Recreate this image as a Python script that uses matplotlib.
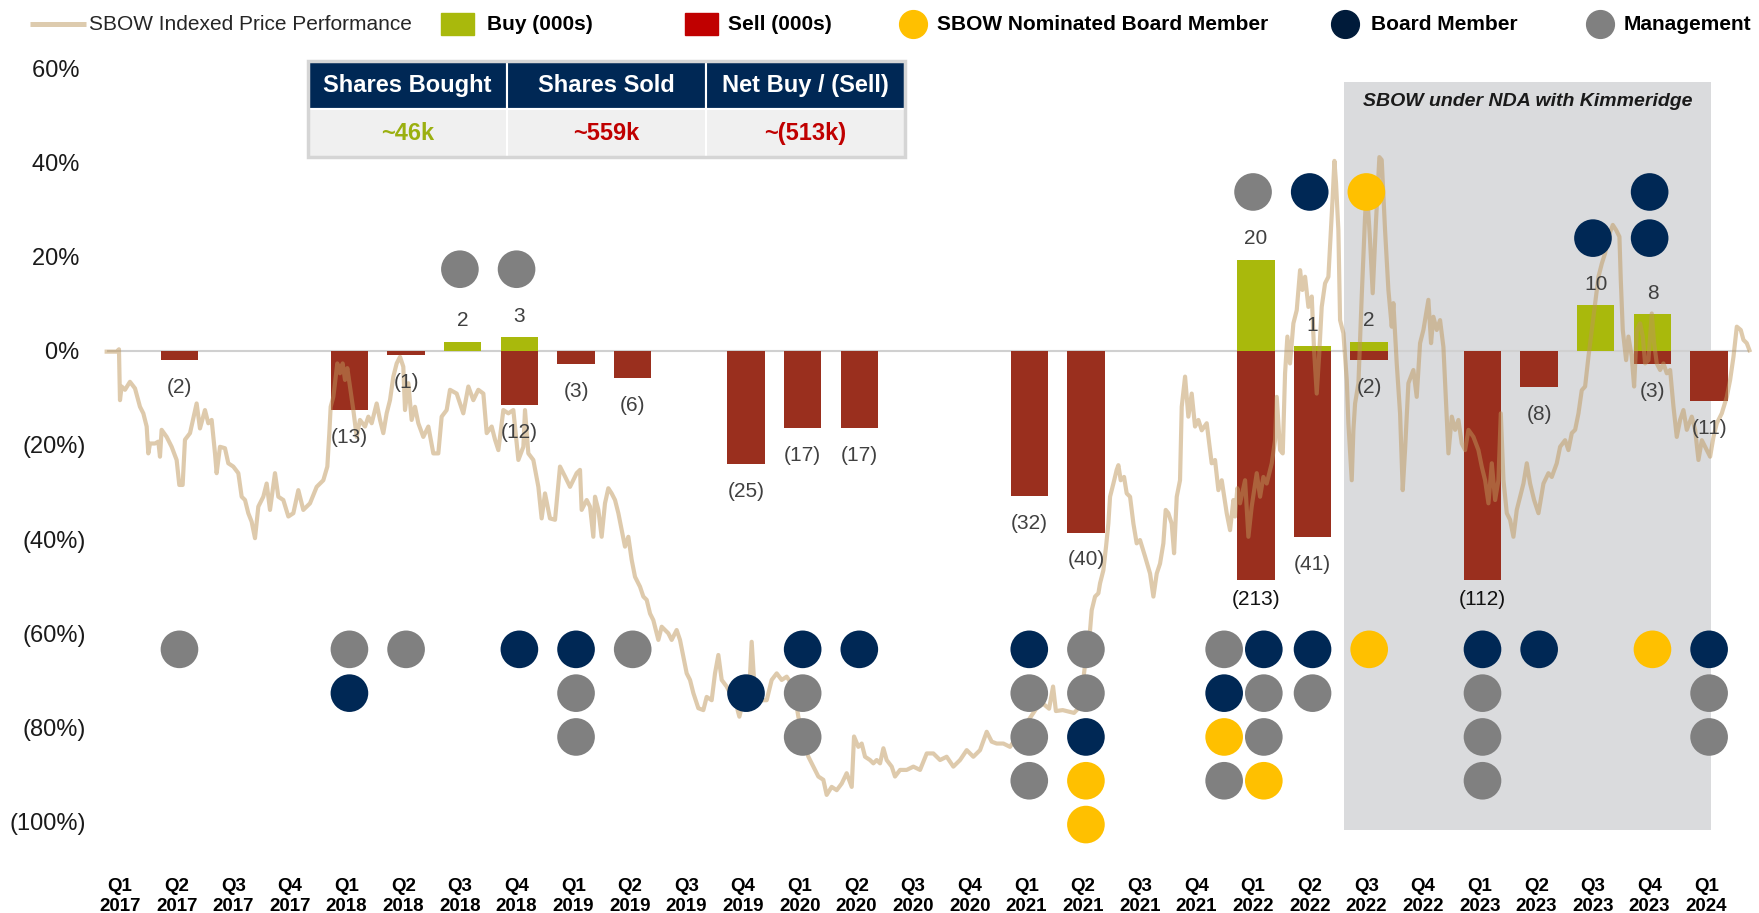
import numpy as np
import matplotlib
matplotlib.use('Agg')
import matplotlib.pyplot as plt
from matplotlib.patches import Rectangle
from matplotlib.lines import Line2D

plt.rcParams['font.family'] = ['Liberation Sans', 'DejaVu Sans']

# ---- data ----
quarters = ['Q1\n2017', 'Q2\n2017', 'Q3\n2017', 'Q4\n2017',
            'Q1\n2018', 'Q2\n2018', 'Q3\n2018', 'Q4\n2018',
            'Q1\n2019', 'Q2\n2019', 'Q3\n2019', 'Q4\n2019',
            'Q1\n2020', 'Q2\n2020', 'Q3\n2020', 'Q4\n2020',
            'Q1\n2021', 'Q2\n2021', 'Q3\n2021', 'Q4\n2021',
            'Q1\n2022', 'Q2\n2022', 'Q3\n2022', 'Q4\n2022',
            'Q1\n2023', 'Q2\n2023', 'Q3\n2023', 'Q4\n2023',
            'Q1\n2024']

# shares bought / sold per quarter (000s)
buys = [0, 0, 0, 0, 0, 0, 2, 3, 0, 0, 0, 0, 0, 0, 0, 0,
        0, 0, 0, 0, 20, 1, 2, 0, 0, 0, 10, 8, 0]
sells = [0, 2, 0, 0, 13, 1, 0, 12, 3, 6, 0, 25, 17, 17, 0, 0,
         32, 40, 0, 0, 213, 41, 2, 0, 112, 8, 0, 3, 11]

# insiders trading per quarter: M = management, B = board member,
# Y = SBOW nominated board member, '-' = empty slot
insiders_below = {1: 'M', 4: 'MB', 5: 'M', 7: 'B', 8: 'BMM', 9: 'M', 11: '-B',
                  12: 'BMM', 13: 'B', 16: 'BMMM', 17: 'MMBYY', 19: 'MBYM',
                  20: 'BMMY', 21: 'BM', 22: 'Y', 24: 'BMMM', 25: 'B', 27: 'Y',
                  28: 'BMM'}
insiders_above = {6: 'M', 7: 'M', 20: 'M', 21: 'B', 22: 'Y', 26: 'B', 27: 'BB'}

table_headers = ['Shares Bought', 'Shares Sold', 'Net Buy / (Sell)']
table_values = ['~46k', '~559k', '~(513k)']

# SBOW indexed price performance (x in quarters from Q1 2017, y in %)
price_pts = [
    (-0.235, -0.2), (-0.059, -0.2), (-0.018, 0.3), (0.0, -10.5), (0.029, -7.6), (0.088, -8.3),
    (0.176, -6.6), (0.265, -8.0), (0.353, -11.9), (0.412, -13.3), (0.471, -16.1), (0.5, -21.8),
    (0.53, -19.7), (0.618, -19.7), (0.677, -19.3), (0.706, -22.5), (0.735, -16.8), (0.824, -18.3),
    (0.912, -20.4), (1.0, -23.2), (1.047, -28.5), (1.106, -28.5), (1.147, -18.9), (1.236, -17.5),
    (1.353, -11.2), (1.412, -16.5), (1.5, -12.6), (1.559, -15.4), (1.618, -14.7), (1.677, -21.8),
    (1.706, -26.0), (1.765, -20.4), (1.853, -20.7), (1.912, -23.9), (2.0, -24.6), (2.089, -26.0),
    (2.148, -31.0), (2.207, -31.7), (2.265, -34.5), (2.324, -36.3), (2.383, -39.8), (2.442, -33.1),
    (2.53, -31.0), (2.589, -28.2), (2.648, -33.8), (2.736, -26.0), (2.795, -31.0), (2.883, -31.7),
    (2.972, -35.2), (3.06, -34.5), (3.148, -29.6), (3.236, -33.8), (3.354, -32.4), (3.472, -28.9),
    (3.589, -27.5), (3.66, -24.6), (3.695, -17.5), (3.719, -11.9), (3.766, -9.8), (3.836, -2.7),
    (3.883, -4.8), (3.93, -2.7), (3.972, -6.2), (4.013, -3.7), (4.06, -7.6), (4.119, -12.6),
    (4.178, -18.3), (4.236, -14.7), (4.325, -16.1), (4.384, -14.0), (4.443, -15.4), (4.531, -11.2),
    (4.59, -14.7), (4.648, -17.5), (4.707, -13.3), (4.766, -10.5), (4.825, -5.5), (4.884, -2.7),
    (4.943, -1.3), (5.001, -3.4), (5.031, -12.6), (5.09, -6.9), (5.148, -14.7), (5.207, -11.9),
    (5.266, -15.4), (5.354, -18.3), (5.443, -16.1), (5.531, -21.8), (5.619, -21.8), (5.678, -14.0),
    (5.766, -12.6), (5.825, -8.3), (5.943, -9.1), (6.06, -13.3), (6.149, -7.6), (6.237, -10.5),
    (6.325, -8.3), (6.414, -9.1), (6.473, -17.5), (6.561, -16.1), (6.62, -18.9), (6.679, -21.1),
    (6.767, -12.6), (6.855, -13.3), (6.943, -12.6), (7.032, -23.2), (7.12, -20.4), (7.149, -12.6),
    (7.208, -21.8), (7.296, -23.2), (7.385, -28.9), (7.443, -35.6), (7.502, -30.3), (7.59, -35.6),
    (7.679, -35.9), (7.767, -24.6), (7.855, -26.7), (7.944, -28.9), (8.061, -26.0),
    (8.12, -25.3), (8.149, -33.8), (8.238, -31.7), (8.297, -33.1), (8.355, -39.5), (8.385, -31.0),
    (8.444, -33.8), (8.502, -39.5), (8.561, -32.4), (8.62, -29.2), (8.679, -30.3), (8.738, -31.7),
    (8.797, -34.5), (8.856, -38.1), (8.914, -41.6), (8.973, -39.5), (9.032, -44.4), (9.091, -48.0),
    (9.179, -50.1), (9.238, -52.2), (9.297, -52.9), (9.356, -55.8), (9.414, -57.2), (9.503, -61.4),
    (9.562, -58.6), (9.679, -60.0), (9.738, -61.4), (9.826, -59.3), (9.885, -61.4), (9.944, -64.9),
    (10.003, -68.5), (10.062, -69.9), (10.121, -72.7), (10.209, -75.9), (10.297, -76.3),
    (10.356, -73.5), (10.444, -74.2), (10.503, -68.5), (10.562, -64.6), (10.621, -69.9),
    (10.709, -71.3), (10.768, -72.7), (10.856, -74.2), (10.933, -77.7), (11.003, -74.2),
    (11.091, -76.3), (11.15, -61.8), (11.192, -69.9), (11.239, -74.2), (11.415, -74.2),
    (11.503, -69.9), (11.592, -68.5), (11.68, -69.9), (11.768, -69.2), (11.886, -71.3),
    (11.974, -77.7), (12.062, -82.6), (12.151, -86.2), (12.239, -88.3), (12.327, -90.4),
    (12.415, -91.1), (12.474, -94.3), (12.562, -92.6), (12.651, -93.3), (12.739, -91.9),
    (12.827, -89.7), (12.916, -92.6), (12.957, -81.9), (13.033, -84.1), (13.092, -83.4),
    (13.151, -86.2), (13.239, -86.9), (13.298, -87.6), (13.357, -86.9), (13.416, -87.6),
    (13.475, -84.4), (13.533, -86.9), (13.622, -88.3), (13.68, -90.4), (13.769, -89.0),
    (13.886, -89.0), (14.004, -88.3), (14.122, -89.0), (14.24, -85.5), (14.357, -85.5),
    (14.475, -86.9), (14.592, -86.2), (14.71, -88.3), (14.828, -86.9), (14.946, -84.8),
    (15.063, -86.2), (15.181, -84.8), (15.299, -80.9), (15.387, -83.0), (15.475, -83.4),
    (15.593, -83.4), (15.71, -84.1), (15.95, -80.0), (16.2, -75.5), (16.3, -75.0), (16.4, -76.0),
    (16.47, -71.3), (16.52, -76.5), (16.64, -76.3), (16.84, -76.9), (16.95, -75.5), (17.05, -65.0),
    (17.123, -59.3), (17.152, -55.1), (17.211, -52.2), (17.27, -51.5), (17.299, -49.4),
    (17.358, -46.6), (17.405, -41.6), (17.446, -36.7), (17.476, -31.0), (17.535, -28.2),
    (17.593, -25.3), (17.623, -24.3), (17.664, -27.5), (17.723, -26.8), (17.77, -30.3),
    (17.829, -31.0), (17.888, -36.7), (17.946, -40.9), (18.005, -40.2), (18.094, -43.7),
    (18.182, -47.3), (18.241, -52.2), (18.3, -47.3), (18.358, -45.2), (18.417, -40.9),
    (18.458, -33.8), (18.505, -34.5), (18.564, -36.7), (18.606, -43.0), (18.653, -31.0),
    (18.711, -27.5), (18.741, -11.9), (18.8, -5.5), (18.858, -14.0), (18.917, -9.1),
    (18.976, -16.1), (19.035, -14.7), (19.094, -16.9), (19.182, -15.4), (19.27, -23.9),
    (19.329, -23.2), (19.388, -29.6), (19.447, -27.5), (19.535, -34.5), (19.594, -38.1),
    (19.653, -31.7), (19.682, -35.2), (19.723, -29.2), (19.77, -32.4), (19.859, -27.5),
    (19.918, -39.5), (19.976, -33.1), (20.065, -26.0), (20.124, -31.0), (20.182, -26.8),
    (20.241, -28.2), (20.33, -23.9), (20.388, -19.0), (20.418, -9.8), (20.477, -21.1),
    (20.524, -21.8), (20.565, -4.8), (20.606, 3.0), (20.653, -2.7), (20.712, 5.8), (20.771, 8.6),
    (20.83, 17.1), (20.871, 12.9), (20.918, 15.7), (20.977, 9.3), (21.036, 11.5), (21.077, 0.1),
    (21.124, -9.1), (21.165, -1.3), (21.212, 9.3), (21.271, 14.3), (21.33, 15.7), (21.359, 22.1),
    (21.406, 32.7), (21.436, 40.3), (21.465, 35.5), (21.506, 25.6), (21.536, 6.5), (21.595, 3.7),
    (21.654, -6.2), (21.683, -15.4), (21.742, -27.5), (21.771, -16.9), (21.801, -11.2),
    (21.86, -6.9), (21.918, 11.5), (21.977, 28.4), (22.007, 34.8), (22.065, 23.5), (22.112, 12.2),
    (22.171, 27.7), (22.23, 41.1), (22.271, 40.5), (22.33, 25.6), (22.389, 12.9), (22.448, 5.1),
    (22.477, 10.1), (22.536, -2.7), (22.595, -13.3), (22.642, -29.6), (22.683, -21.1),
    (22.742, -6.9), (22.83, -4.1), (22.889, -9.8), (22.948, 1.6), (23.007, 4.4), (23.095, 10.8),
    (23.142, 1.6), (23.183, 7.2), (23.242, 4.4), (23.301, 6.5), (23.36, 0.8),
    (23.449, -21.8), (23.508, -14.0), (23.567, -16.8), (23.625, -14.7), (23.684, -19.7),
    (23.743, -21.1), (23.802, -16.8), (23.89, -18.3), (23.978, -21.1), (24.037, -24.6),
    (24.096, -27.5), (24.155, -32.4), (24.214, -23.9), (24.273, -31.7), (24.331, -27.5),
    (24.373, -13.3), (24.42, -27.5), (24.479, -34.5), (24.537, -35.9), (24.596, -39.5),
    (24.655, -33.8), (24.714, -31.0), (24.773, -28.2), (24.832, -23.9), (24.89, -28.2),
    (24.961, -31.7), (25.038, -34.5), (25.126, -28.2), (25.214, -26.0), (25.273, -26.8),
    (25.361, -23.9), (25.42, -20.4), (25.508, -19.0), (25.567, -21.1), (25.626, -17.5),
    (25.685, -16.8), (25.744, -13.3), (25.802, -8.4), (25.861, -7.6), (25.92, -1.3),
    (25.979, 4.4), (26.038, 10.0), (26.097, 15.7), (26.156, 18.5), (26.214, 20.7), (26.273, 24.2),
    (26.35, 26.7), (26.409, 25.6), (26.467, 24.2), (26.491, 15.0), (26.526, 4.4), (26.585, -2.0),
    (26.626, 3.0), (26.685, -1.3), (26.726, -7.6), (26.773, 4.4), (26.832, 5.8), (26.879, 3.0),
    (26.92, -2.7), (26.979, -2.0), (27.038, 7.9), (27.079, 1.6), (27.126, -2.7), (27.185, -4.1),
    (27.244, -2.7), (27.303, -4.8), (27.362, -4.1), (27.421, -11.9), (27.479, -18.3),
    (27.538, -14.7), (27.597, -12.6), (27.656, -16.8), (27.744, -14.0), (27.803, -16.8),
    (27.862, -23.2), (27.921, -19.0), (27.98, -20.4), (28.068, -22.5), (28.127, -18.3),
    (28.186, -15.4), (28.274, -13.3), (28.362, -9.8), (28.421, -6.2), (28.48, -1.3),
    (28.539, 5.1), (28.609, 4.4), (28.656, 2.3), (28.715, 1.6), (28.762, 0.1),
]

nda_start, nda_end = 21.6, 28.08   # SBOW under NDA window (quarters)

# ---- style ----
BUY_C = '#A9B90C'
SELL_C = '#9A2F1E'
LINE_C = '#BE965A'
NAVY = '#002855'
GREY = '#808080'
GOLD = '#FFC000'
person_colors = {'M': GREY, 'B': NAVY, 'Y': GOLD}
BAR_SCALE = 0.965      # % of axis per thousand shares
BAR_CLIP = 48.7
SHIFT = 0.05           # marks sit a touch right of the tick labels
col_nudge = {19: 0.44, 20: 0.14}   # crowded dot columns pushed apart
W, H = 1759, 913

fig = plt.figure(figsize=(W / 100, H / 100), dpi=100)
ax = fig.add_axes([95 / W, 63 / H, 1660 / W, 800 / H])
ax.set_xlim(-0.441, 28.86)
ax.set_ylim(-106.0, 63.84)
for s in ax.spines.values():
    s.set_visible(False)

x = np.arange(len(quarters))
px, py = np.array(price_pts).T

# NDA shading
ax.add_patch(Rectangle((nda_start, -101.8), nda_end - nda_start, 158.8,
                       facecolor='#DADBDD', edgecolor='none', zorder=0.5))
ax.text((nda_start + nda_end) / 2, 53.0, 'SBOW under NDA with Kimmeridge',
        ha='center', va='center', fontsize=14, fontweight='bold',
        fontstyle='italic', color='#1a1a1a', zorder=1)

ax.hlines(0, px[0], px[-1], color='#D0D0D0', lw=1.5, zorder=1)

buy_h = np.array(buys) * BAR_SCALE
sell_h = np.minimum(np.array(sells) * BAR_SCALE, BAR_CLIP)
ax.bar(x + SHIFT, buy_h, width=0.66, color=BUY_C, zorder=2)
ax.bar(x + SHIFT, -sell_h, width=0.66, color=SELL_C, zorder=2)

for i in x:
    if buys[i]:
        ax.annotate(f'{buys[i]}', (i + SHIFT, buy_h[i]), xytext=(0, 15),
                    textcoords='offset points', ha='center', va='center',
                    fontsize=15, color='#404040', zorder=6)
    if sells[i]:
        clipped = sells[i] * BAR_SCALE > BAR_CLIP
        ax.annotate(f'({sells[i]})', (i + SHIFT, -sell_h[i]),
                    xytext=(0, -14 if clipped else -19.7),
                    textcoords='offset points', ha='center', va='center',
                    fontsize=15, color='#111111' if clipped else '#404040',
                    zorder=6)

ax.plot(px, py, color=LINE_C, alpha=0.5, lw=3.0, zorder=3)

# insider dots
dot_size = 27.1 ** 2
for q, people in insiders_below.items():
    cx = q + SHIFT + col_nudge.get(q, 0)
    for k, p in enumerate(people):
        if p != '-':
            ax.scatter(cx, -63.4 - 9.3 * k, s=dot_size, color=person_colors[p],
                       edgecolors='none', zorder=4)
above_base = {6: 17.3, 7: 17.3, 20: 33.7, 21: 33.7, 22: 33.7, 26: 23.9, 27: 23.9}
for q, people in insiders_above.items():
    for k, p in enumerate(people):
        ax.scatter(q, above_base[q] + 9.8 * k, s=dot_size, color=person_colors[p],
                   edgecolors='none', zorder=4)

# axes ticks
ax.set_xticks(x)
ax.set_xticklabels(quarters, fontsize=13.5, fontweight='bold', linespacing=1.17)
yt = [60, 40, 20, 0, -20, -40, -60, -80, -100]
ax.set_yticks(yt)
ax.set_yticklabels([f'{v}% ' if v >= 0 else f'({-v}%)' for v in yt], fontsize=17,
                   color='#1a1a1a')
ax.tick_params(axis='x', length=0, pad=20.4)
ax.tick_params(axis='y', length=0, pad=6.5)

# summary table
tbl = ax.table(cellText=[table_values], colLabels=table_headers, cellLoc='center',
               bbox=[0.1283, 0.866, 0.3596, 0.12])
tbl.auto_set_font_size(False)
val_colors = ['#9BB010', '#C00000', '#C00000']
for (r, c), cell in tbl.get_celld().items():
    cell.set_edgecolor('white')
    cell.set_linewidth(1.5)
    t = cell.get_text()
    t.set_fontsize(17)
    t.set_fontweight('bold')
    if r == 0:
        cell.set_facecolor(NAVY)
        t.set_color('white')
    else:
        cell.set_facecolor('#F0F0F0')
        t.set_color(val_colors[c])
ax.add_patch(Rectangle((0.1283, 0.866), 0.3596, 0.12, transform=ax.transAxes,
                       fill=False, edgecolor='#D5D5D5', lw=2.5, clip_on=False, zorder=7))

# legend (hand placed across the top)
def fx(p):
    return p / W


def fy(p):
    return 1 - p / H


ly = 24
fig.add_artist(Line2D([fx(30), fx(86)], [fy(ly), fy(ly)], color='#DDCBAE', lw=3.6,
                      solid_capstyle='butt'))
fig.text(fx(89), fy(ly), 'SBOW Indexed Price Performance', fontsize=15,
         color='#262626', va='center', ha='left')
fig.add_artist(Rectangle((fx(441), fy(35.5)), 33 / W, 22 / H, color=BUY_C))
fig.text(fx(487), fy(ly), 'Buy (000s)', fontsize=15, fontweight='bold',
         va='center', ha='left')
fig.add_artist(Rectangle((fx(685), fy(35.5)), 33 / W, 22 / H, color='#C00000'))
fig.text(fx(728), fy(ly), 'Sell (000s)', fontsize=15, fontweight='bold',
         va='center', ha='left')
for cx, tx, col, lab in [(913, 937, GOLD, 'SBOW Nominated Board Member'),
                         (1345, 1371, '#001B3A', 'Board Member'),
                         (1600, 1624, GREY, 'Management')]:
    fig.add_artist(Line2D([fx(cx)], [fy(ly)], marker='o', ms=20, color=col,
                          ls='none'))
    fig.text(fx(tx), fy(ly), lab, fontsize=15, fontweight='bold',
             va='center', ha='left')

fig.savefig('out.png', dpi=100)
